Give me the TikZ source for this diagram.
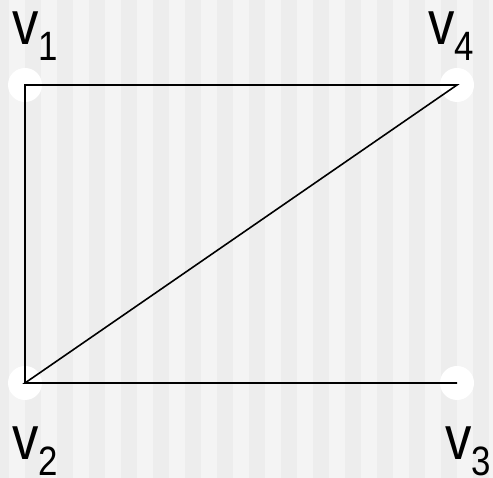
\documentclass[tikz,border=0pt]{standalone}
\usepackage{fontspec}
\setmainfont{Liberation Sans}
\definecolor{stripelight}{HTML}{F4F4F4}
\definecolor{stripedark}{HTML}{EDEDED}
\newcommand{\vname}[1]{\scalebox{0.85}[1]{\fontsize{62}{62}\selectfont v\lower16pt\hbox{\fontsize{41}{41}\selectfont #1}}}

\begin{document}
\begin{tikzpicture}[x=1pt, y=1pt, vert/.style={circle, fill=white, minimum size=34pt, inner sep=0pt}, lab/.style={anchor=base west, inner sep=0pt}, edge/.style={line width=1.6pt}]
	\useasboundingbox (0,0) rectangle (493,478);
	\fill[stripelight] (0,0) rectangle (493,478);
	\foreach \x in {-7,25,...,505}
		\fill[stripedark] (\x,0) rectangle ++(16,478);
	% vertices
	\node[vert] (v1) at (25,393) {};
	\node[vert] (v4) at (457,393) {};
	\node[vert] (v2) at (25,95) {};
	\node[vert] (v3) at (457,95) {};
	\draw[edge] (v2.center) -- (v1.center) -- (v4.center) -- (v2.center) -- (v3.center);
	% names
	\node[lab] (l1) at (12,433) {\vname{1}};
	\node[lab] (l4) at (428,433) {\vname{4}};
	\node[lab] (l2) at (12,18) {\vname{2}};
	\node[lab] (l3) at (445,18) {\vname{3}};
\end{tikzpicture}
\end{document}
